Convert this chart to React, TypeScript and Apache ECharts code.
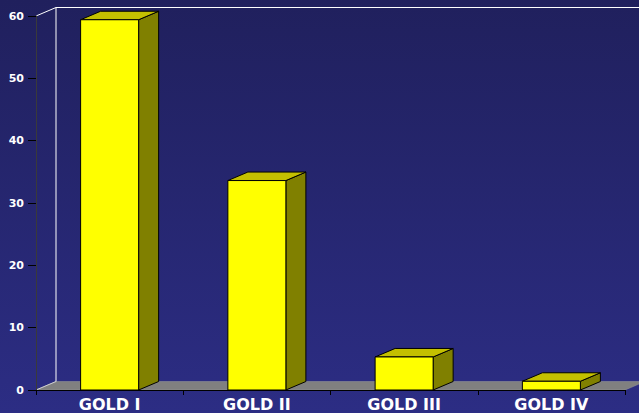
import React, { useEffect, useRef } from "react";
import * as echarts from "echarts";

const categories = ["GOLD I", "GOLD II", "GOLD III", "GOLD IV"];
const values = [59.4, 33.6, 5.3, 1.4];
const yMin = 0;
const yMax = 60;
const yInterval = 10;

const DX = 20;
const DY = -8.5;

export default function App() {
  const ref = useRef<HTMLDivElement>(null);
  useEffect(() => {
    if (!ref.current) return;
    const chart = echarts.init(ref.current, undefined, { renderer: "svg" });
    const option: any = {
      animation: false,
      backgroundColor: {
        type: "linear",
        x: 0,
        y: 0,
        x2: 0,
        y2: 1,
        colorStops: [
          { offset: 0, color: "#20205d" },
          { offset: 1, color: "#2c2d84" },
        ],
      },
      grid: { left: 36, right: 14, top: 16, bottom: 23 },
      xAxis: {
        type: "category",
        data: categories,
        z: 10,
        axisLine: { lineStyle: { color: "#000000", width: 1 } },
        axisTick: { show: true, length: 5, lineStyle: { color: "#000000" } },
        axisLabel: {
          color: "#ffffff",
          fontFamily: "DejaVu Sans",
          fontWeight: "bold",
          fontSize: 16,
          margin: 6,
        },
        splitLine: { show: false },
      },
      yAxis: {
        type: "value",
        min: yMin,
        max: yMax,
        interval: yInterval,
        z: 10,
        axisLine: { show: true, lineStyle: { color: "#3a3a3a", width: 1 } },
        axisTick: { show: true, length: 8, lineStyle: { color: "#000000" } },
        axisLabel: {
          color: "#ffffff",
          fontFamily: "DejaVu Sans",
          fontWeight: "bold",
          fontSize: 11,
          margin: 12,
        },
        splitLine: { show: false },
      },
      series: [
        {
          type: "custom",
          silent: true,
          z: 1,
          data: [[0, 0]],
          encode: { x: 0, y: 1 },
          renderItem: (params: any, api: any) => {
            const c0 = api.coord([0, yMin]);
            const w = api.size([1, 0])[0];
            const left = c0[0] - w / 2;
            const right = left + w * categories.length;
            const yb = c0[1];
            const yt = api.coord([0, yMax])[1];
            return {
              type: "group",
              children: [
                {
                  type: "polygon",
                  shape: {
                    points: [
                      [left, yb],
                      [right, yb],
                      [right + DX, yb + DY],
                      [left + DX, yb + DY],
                    ],
                  },
                  style: { fill: "#808080", stroke: "#9a9a9a", lineWidth: 0.5 },
                },
                {
                  type: "line",
                  shape: { x1: left + DX, y1: yb + DY, x2: left + DX, y2: yt + DY },
                  style: { stroke: "#ffffff", lineWidth: 1 },
                },
                {
                  type: "line",
                  shape: { x1: left + DX, y1: yt + DY, x2: right + DX, y2: yt + DY },
                  style: { stroke: "#ffffff", lineWidth: 1 },
                },
                {
                  type: "line",
                  shape: { x1: left, y1: yt, x2: left + DX, y2: yt + DY },
                  style: { stroke: "#ffffff", lineWidth: 1 },
                },
                {
                  type: "line",
                  shape: { x1: left, y1: yb, x2: left + DX, y2: yb + DY },
                  style: { stroke: "#cfcfcf", lineWidth: 1 },
                },
              ],
            };
          },
        },
        {
          type: "custom",
          z: 3,
          data: values.map((v, i) => [i, v]),
          encode: { x: 0, y: 1 },
          renderItem: (params: any, api: any) => {
            const idx = api.value(0);
            const val = api.value(1);
            const top = api.coord([idx, val]);
            const base = api.coord([idx, 0]);
            const w = api.size([1, 0])[0] * 0.394;
            const x0 = top[0] - w / 2;
            const x1 = top[0] + w / 2;
            const yt = top[1];
            const yb = base[1];
            return {
              type: "group",
              children: [
                {
                  type: "polygon",
                  shape: {
                    points: [
                      [x1, yb],
                      [x1 + DX, yb + DY],
                      [x1 + DX, yt + DY],
                      [x1, yt],
                    ],
                  },
                  style: { fill: "#808000", stroke: "#000000", lineWidth: 1 },
                },
                {
                  type: "polygon",
                  shape: {
                    points: [
                      [x0, yt],
                      [x1, yt],
                      [x1 + DX, yt + DY],
                      [x0 + DX, yt + DY],
                    ],
                  },
                  style: { fill: "#c4c000", stroke: "#000000", lineWidth: 1 },
                },
                {
                  type: "rect",
                  shape: { x: x0, y: yt, width: w, height: yb - yt },
                  style: { fill: "#ffff00", stroke: "#000000", lineWidth: 1 },
                },
              ],
            };
          },
        },
      ],
    };
    chart.setOption(option);
    return () => chart.dispose();
  }, []);
  return (
    <div
      ref={ref}
      style={{ position: "fixed", left: 0, top: 0, width: 639, height: 413 }}
    />
  );
}
